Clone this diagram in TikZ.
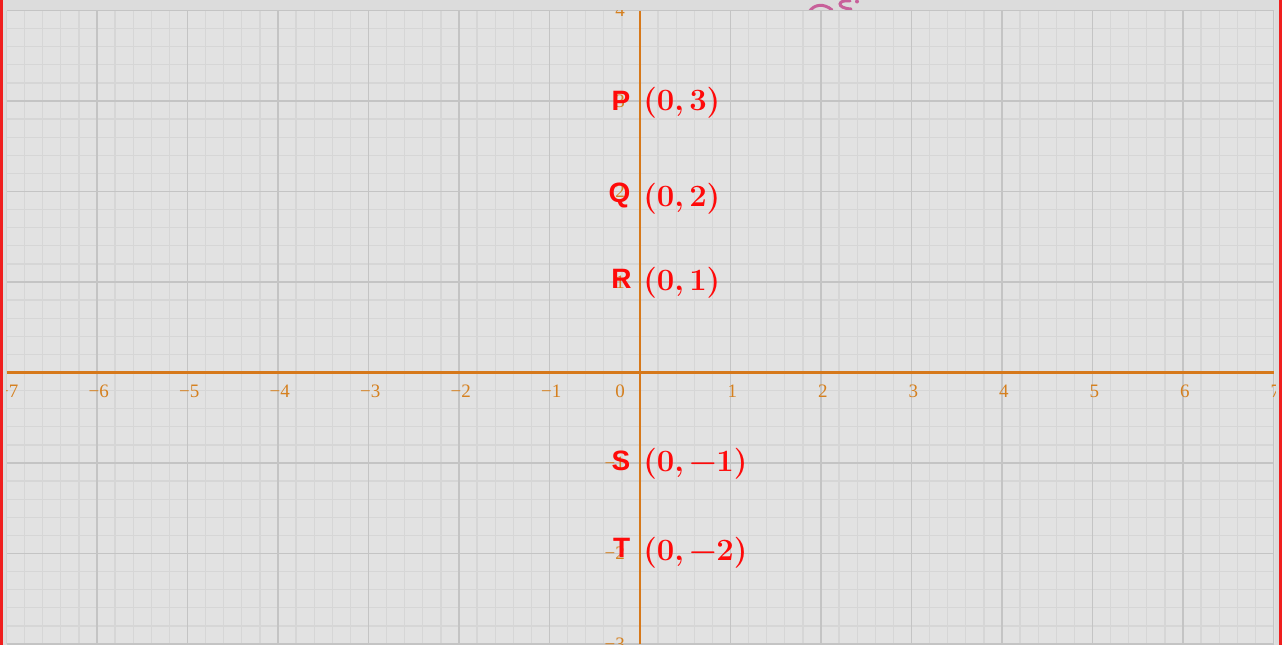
\documentclass[tikz,border=0pt]{standalone}
\usepackage{fontspec}
\newfontfamily\labsans{Liberation Sans}
\newfontfamily\ticksf{Liberation Serif}
\definecolor{bgc}{HTML}{DCDCDC}
\definecolor{gridbg}{HTML}{E2E2E2}
\definecolor{minorc}{HTML}{D6D6D6}
\definecolor{majorc}{HTML}{C4C4C4}
\definecolor{axisc}{HTML}{D6781A}
\definecolor{tickc}{HTML}{D5801F}
\definecolor{ptred}{HTML}{FF0A0A}
\definecolor{borderc}{HTML}{F01E1E}
\definecolor{logoc}{HTML}{C8609A}
\newcommand{\signednum}[1]{\ifnum#1<0 −\the\numexpr-#1\relax\else#1\fi}
\begin{document}
\begin{tikzpicture}[x=1pt,y=-1pt,
  ticklab/.style={text=tickc, font=\ticksf\fontsize{19}{20}\selectfont, inner sep=0pt},
  letlab/.style={text=ptred, font=\labsans\bfseries\fontsize{28}{30}\selectfont, inner sep=0pt, anchor=base east},
  coordlab/.style={text=ptred, font=\bfseries\fontsize{31}{33}\selectfont, inner sep=0pt, anchor=west},
  axisline/.style={draw=axisc, line width=2.8pt}]
\useasboundingbox (0,0) rectangle (1282,645);
\fill[bgc] (0,0) rectangle (1282,645);
% logo fragment at the top
\draw[logoc, line width=3pt, line cap=round] (809,12) .. controls (814,4) and (824,3) .. (832,10);
\draw[logoc, line width=3pt, line cap=round] (850,1) .. controls (838,-1) and (835,8) .. (851,9);
\fill[logoc] (857,1.5) circle (2);
\begin{scope}[shift={(640,372.5)}, x=90.5pt, y=90.5pt]
  \clip (-7,-3) rectangle (7.02,4);
  \fill[gridbg] (-7,-3) rectangle (7.02,4);
  \draw[minorc, line width=1.3pt] (-7,-3) grid[step=0.2] (7,4);
  \draw[majorc, line width=1.6pt] (-7,-3) grid[step=1] (7,4);
  \draw[axisline] (-7,0) coordinate (xmin) -- (7,0) coordinate (xmax);
  \draw[axisline] (0,-3) coordinate (ymin) -- (0,4) coordinate (ymax);
  % tick labels
  \foreach \i in {-7,...,-1,1,2,...,7}
    \node[ticklab] (xl\i) at (\i+0.02,-0.205) {\signednum{\i}};
  \foreach \j in {-3,-2,-1,1,2,3,4}
    \node[ticklab, anchor=east] (yl\j) at (-0.166,\j) {\signednum{\j}};
  \node[ticklab] (orig) at (-0.22,-0.205) {0};
  % point letters
  \node[letlab] (P) at (-0.105,2.89) {P};
  \node[letlab] (Q) at (-0.105,1.875) {Q};
  \node[letlab] (R) at (-0.09,0.925) {R};
  \node[letlab] (S) at (-0.105,-1.085) {S};
  \node[letlab] (T) at (-0.105,-2.045) {T};
  % coordinates
  \node[coordlab] (cP) at (0.035,2.978) {(0,\,3)};
  \node[coordlab] (cQ) at (0.035,1.917) {(0,\,2)};
  \node[coordlab] (cR) at (0.035,0.989) {(0,\,1)};
  \node[coordlab] (cS) at (0.035,-1.011) {(0,\,−1)};
  \node[coordlab] (cT) at (0.035,-1.994) {(0,\,−2)};
\end{scope}
% red side borders
\fill[borderc] (0,0) rectangle (2.5,645);
\fill[borderc] (1279,0) rectangle (1282,645);
\end{tikzpicture}
\end{document}
